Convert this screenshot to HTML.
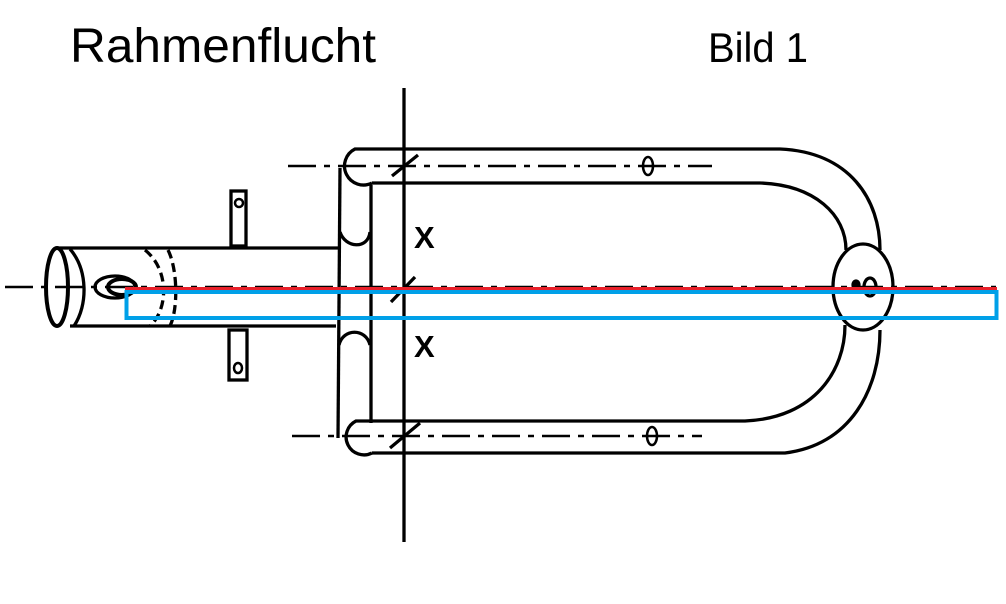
<!DOCTYPE html>
<html><head><meta charset="utf-8"><style>html,body{margin:0;padding:0;background:#fff;width:1006px;height:604px;overflow:hidden}</style></head>
<body>
<svg width="1006" height="604" viewBox="0 0 1006 604" xmlns="http://www.w3.org/2000/svg">
<text x="70" y="62" font-family="Liberation Sans, sans-serif" font-size="48" textLength="306" lengthAdjust="spacingAndGlyphs">Rahmenflucht</text>
<text x="708" y="62" font-family="Liberation Sans, sans-serif" font-size="42" textLength="100" lengthAdjust="spacingAndGlyphs">Bild 1</text>
<g fill="none" stroke="#000" stroke-width="3.3">
<line x1="404" y1="88" x2="404" y2="542"/>
<line x1="288" y1="166" x2="712" y2="166" stroke-dasharray="28,8,6,8" stroke-width="2.5"/>
<line x1="292" y1="436" x2="702" y2="436" stroke-dasharray="28,8,6,8" stroke-width="2.5"/>
<line x1="5" y1="287" x2="996" y2="287" stroke-dasharray="28,8,6,8" stroke-width="2.5"/>
<path d="M372 183 A17 17 0 0 1 355 149 L780 149 C850 152 880 200 880 250"/>
<path d="M372 183 L760 183 C815 185 846 215 846 250"/>
<path d="M372 453 A16 16 0 0 1 356 421 L745 421 C815 418 845 370 845 325"/>
<path d="M372 453 L785 453 C850 445 880 390 880 330"/>
<line x1="340" y1="168" x2="338" y2="438"/>
<line x1="371" y1="185" x2="371" y2="423"/>
<path d="M340 232 C345 248 368 250 370 232"/>
<path d="M339 345 C343 328 366 328 370 345"/>
<ellipse cx="863" cy="287" rx="30" ry="43"/>
<ellipse cx="870" cy="287" rx="6" ry="9"/>
<ellipse cx="856" cy="285" rx="3" ry="4" fill="#000"/>
<ellipse cx="648" cy="166" rx="5" ry="9" stroke-width="2.5"/>
<ellipse cx="652" cy="436" rx="5" ry="9" stroke-width="2.5"/>
<line x1="392" y1="176" x2="418" y2="155"/>
<line x1="391" y1="302" x2="415" y2="277"/>
<line x1="390" y1="448" x2="420" y2="423"/>
<line x1="57" y1="248" x2="338" y2="248"/>
<line x1="70" y1="326" x2="336" y2="326"/>
<ellipse cx="57" cy="287" rx="11" ry="39" stroke-width="4"/>
<path d="M70 249 C88 270 88 305 74 326"/>
<path d="M145 250 C170 270 168 310 150 326" stroke-dasharray="9,5"/>
<path d="M168 250 C178 270 178 310 170 326" stroke-dasharray="9,5"/>
<ellipse cx="115" cy="287" rx="20" ry="11"/>
<ellipse cx="122" cy="287" rx="14" ry="8" stroke-width="4"/>
<rect x="231" y="191" width="15" height="55"/>
<circle cx="239" cy="203" r="4" stroke-width="2.5"/>
<rect x="229" y="330" width="18" height="50"/>
<ellipse cx="238" cy="368" rx="4" ry="5" stroke-width="2.5"/>
</g>
<line x1="125" y1="288.5" x2="997" y2="288.5" stroke="#e8212a" stroke-width="3"/>
<rect x="126.5" y="292" width="870" height="26" fill="none" stroke="#00a0e8" stroke-width="4"/>
<text x="414" y="248" font-family="Liberation Sans, sans-serif" font-weight="bold" font-size="31">X</text>
<text x="414" y="357" font-family="Liberation Sans, sans-serif" font-weight="bold" font-size="31">X</text>
</svg>
</body></html>
